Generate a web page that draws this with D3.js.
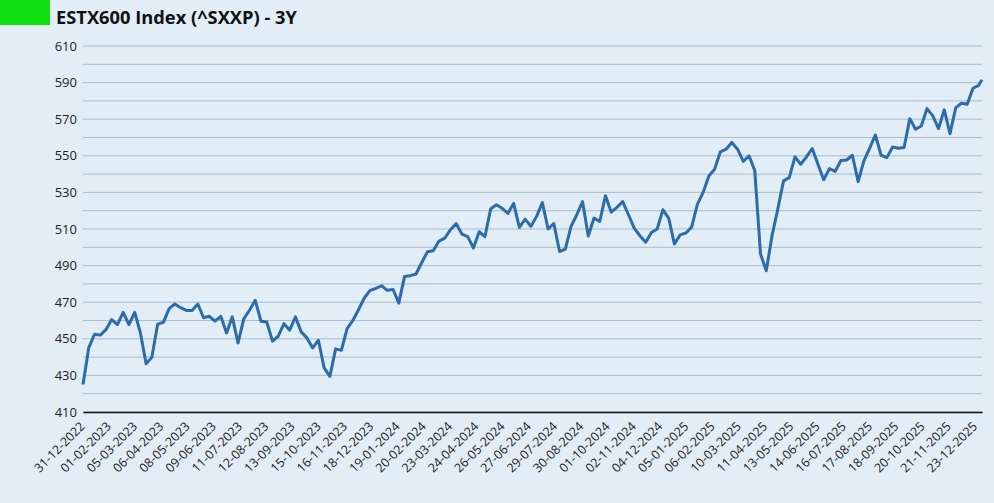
<!DOCTYPE html>
<html><head><meta charset="utf-8">
<script src="https://cdn.jsdelivr.net/npm/d3@7"></script>
<style>
html,body{margin:0;padding:0;background:#e2edf5;}
svg{display:block;font-family:"Open Sans",sans-serif;}
</style></head><body>
<svg id="c" width="994" height="503"></svg>
<script>
const title = "ESTX600 Index (^SXXP) - 3Y";
const startDate = "2022-12-31";
const endDate = "2025-12-31";
const values = [
425,445,452.5,452,455,460.5,457.8,464.5,457.8,464.5,
453.2,436.3,440,458,459,466.5,469,467,465.5,465.5,
469,461.5,462.3,459.6,462.3,453.2,462,447.7,460.9,465.6,
471,459.6,459.2,448.7,451.4,458.3,454.7,462,453.8,450.5,
445,449.2,434.1,429.5,444.5,443.7,455.6,460,466,472.3,
476.5,477.5,479,476.5,477,469.5,484,484.5,485.4,491.7,
497.6,498.1,503.4,505,509.6,513,507.2,505.8,499.6,508.5,
505.8,520.9,523.3,521.3,518.5,524,510.9,515.4,511.4,516.9,
524.5,510,513,497.7,499,511.4,517.8,525,506.2,516,
514.1,528.2,519.2,521.8,525,517.8,510.5,506.3,502.8,508.1,
510,520.5,516,501.8,506.8,507.8,511,523.5,530,539,
542.7,552.2,553.6,557.3,553.6,546.9,550,541.8,496.3,487.2,
506.3,520.8,536.3,538.1,549.4,545.4,549.4,554,545.4,536.9,
543,541.5,547.4,547.7,550.3,535.9,547.2,554.1,561.4,550.3,
549,554.8,554.1,554.5,570.3,564.5,566.3,575.8,571.8,564.9,
575.1,562.1,576.3,578.7,578.2,586.9,588.5,591.5
];
const xTickLabels = ["31-12-2022","01-02-2023","05-03-2023","06-04-2023","08-05-2023","09-06-2023","11-07-2023","12-08-2023","13-09-2023","15-10-2023","16-11-2023","18-12-2023","19-01-2024","20-02-2024","23-03-2024","24-04-2024","26-05-2024","27-06-2024","29-07-2024","30-08-2024","01-10-2024","02-11-2024","04-12-2024","05-01-2025","06-02-2025","10-03-2025","11-04-2025","13-05-2025","14-06-2025","16-07-2025","17-08-2025","18-09-2025","20-10-2025","21-11-2025","23-12-2025"];
const yTickValues = [410,430,450,470,490,510,530,550,570,590,610];
const yGridValues = [410,420,430,440,450,460,470,480,490,500,510,520,530,540,550,560,570,580,590,600,610];

const parse = d3.timeParse("%Y-%m-%d");
const parseLbl = d3.timeParse("%d-%m-%Y");
const t0 = parse(startDate), t1 = parse(endDate);
const dates = values.map((v,i)=> i===values.length-1 ? t1 : d3.timeDay.offset(t0, 7*i));
const data = values.map((v,i)=>({d:dates[i], v}));

const svg = d3.select("#c");
const m = {l:83, r:982, t:46, b:412};
const x = d3.scaleTime().domain([t0,t1]).range([m.l, m.r]);
const y = d3.scaleLinear().domain([410,610]).range([m.b, m.t]);

svg.append("rect").attr("x",0).attr("y",0).attr("width",50).attr("height",25).attr("fill","#10e010");
svg.append("text").attr("x",56).attr("y",24).attr("font-size",18.3).attr("font-weight","bold").attr("fill","#111").text(title);

svg.append("g").selectAll("line").data(yGridValues).join("line")
  .attr("x1",m.l).attr("x2",m.r).attr("y1",d=>y(d)).attr("y2",d=>y(d))
  .attr("stroke","#a9bcca").attr("stroke-width",1);

const ya = svg.append("g").attr("transform",`translate(${m.l},0)`)
  .call(d3.axisLeft(y).tickValues(yTickValues).tickSize(0).tickPadding(6).tickFormat(d3.format("d")));
ya.select(".domain").remove();
ya.selectAll("text").attr("font-size",13).attr("fill","#222").attr("font-family","Open Sans");

const xa = svg.append("g").attr("transform",`translate(0,${m.b})`)
  .call(d3.axisBottom(x).tickValues(xTickLabels.map(s=>parseLbl(s))).tickSize(0).tickFormat(d3.timeFormat("%d-%m-%Y")));
xa.select(".domain").attr("stroke","#111").attr("stroke-width",1.5);
xa.selectAll("text").attr("font-size",12.5).attr("fill","#222").attr("font-family","Open Sans")
  .attr("text-anchor","end").attr("dy",0).attr("transform","translate(0,13) rotate(-45)");

svg.append("path").datum(data)
  .attr("fill","none").attr("stroke","#2c6ca8").attr("stroke-width",3).attr("stroke-linejoin","round")
  .attr("d", d3.line().x(d=>x(d.d)).y(d=>y(d.v)));
</script></body></html>
